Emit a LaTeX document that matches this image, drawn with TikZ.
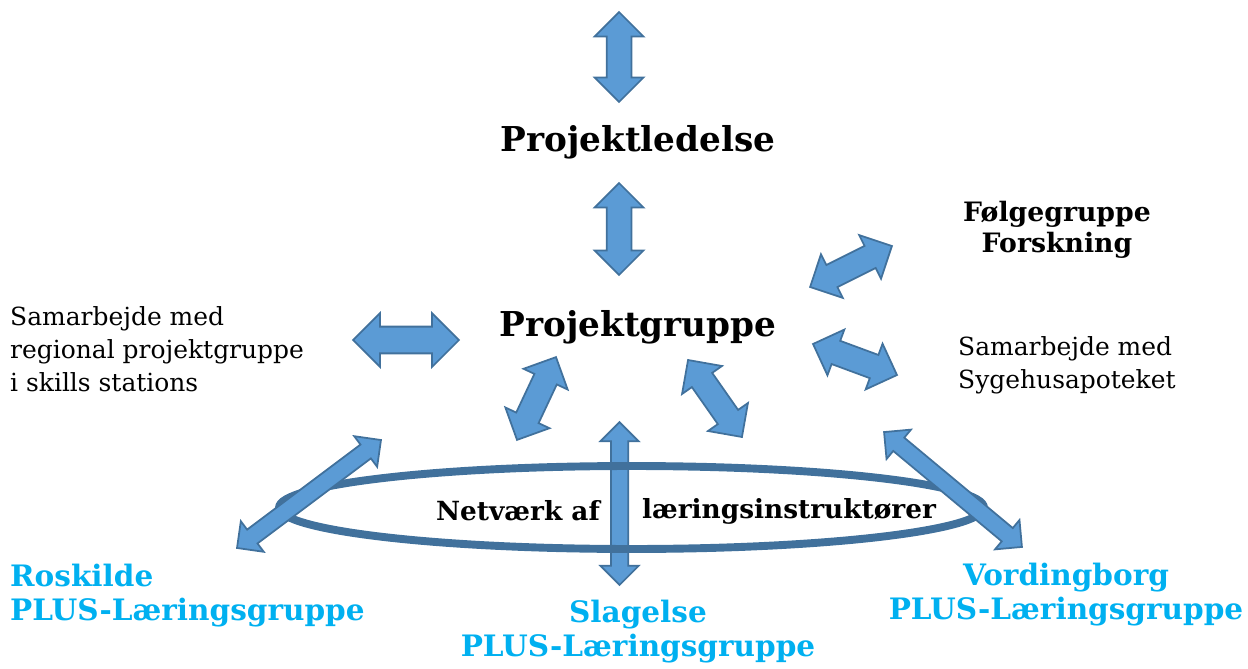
\documentclass[tikz,border=0pt]{standalone}
\usepackage{fontspec}
\setmainfont{DejaVu Serif}
\usetikzlibrary{shapes.arrows,shapes.geometric}

\definecolor{pilfyld}{RGB}{91,155,213}
\definecolor{pilkant}{RGB}{65,113,156}
\definecolor{plusblaa}{RGB}{0,176,240}

\begin{document}
\begin{tikzpicture}[x=0.02cm, y=-0.02cm,
	pil/.style={shape=double arrow, fill=pilfyld, draw=pilkant, line width=1pt,
		inner xsep=0pt, inner ysep=0.23cm, minimum width=0.94cm, double arrow head extend=0.24cm},
	langpil/.style={pil, inner ysep=0.155cm, minimum width=0.72cm, double arrow head extend=0.21cm},
	titel/.style={font=\bfseries\fontsize{19.5}{22}\selectfont},
	gruppe/.style={font=\bfseries\fontsize{16.8}{19.3}\selectfont, text=plusblaa},
	tekst/.style={font=\fontsize{14.2}{18.7}\selectfont, align=left}]
	\useasboundingbox (0,0) rectangle (1248,669);

	% tekster
	\node[titel] (ledelse) at (638,142){Projektledelse};
	\node[titel] (gruppe) at (638,327){Projektgruppe};
	\node[font=\bfseries\fontsize{15.2}{18}\selectfont, align=center] (folge) at (1057,230){Følgegruppe\\Forskning};
	\node[tekst, anchor=west] (samregion) at (4,349){Samarbejde med\\regional projektgruppe\\i skills stations};
	\node[tekst, anchor=west] (samapotek) at (952,365){Samarbejde med\\Sygehusapoteket};
	\node[gruppe, align=left, anchor=west] (roskilde) at (4,596){Roskilde\\PLUS-Læringsgruppe};
	\node[gruppe, align=center] (slagelse) at (638,632){Slagelse\\PLUS-Læringsgruppe};
	\node[gruppe, align=center] (vordingborg) at (1066,595){Vordingborg\\PLUS-Læringsgruppe};

	% pile omkring projektgruppen
	\node[pil, minimum height=1.8cm, rotate=90] (a1) at (619,57){};
	\node[pil, minimum height=1.84cm, rotate=90] (a2) at (619,229){};
	\node[pil, minimum height=2.12cm, inner ysep=0.25cm, minimum width=1.04cm, double arrow head extend=0.27cm] (a3) at (406,340){};
	\node[pil, minimum height=1.83cm, rotate=26.6] (a4) at (851,266.5){};
	\node[pil, minimum height=1.79cm, rotate=-20.3] (a5) at (855,359.5){};
	\node[pil, minimum height=1.83cm, rotate=64.8] (a6) at (536.5,398.5){};
	\node[pil, minimum height=1.88cm, rotate=-55] (a7) at (715,398.5){};

	% netvaerket
	\node[langpil, minimum height=3.26cm, rotate=90] (a9) at (619.5,503.5){};
	\node[ellipse, draw=pilkant, line width=4.5pt, inner sep=0pt,
		minimum width=14.1cm, minimum height=1.66cm] (netvaerk) at (631.5,507.5){};
	\node[langpil, minimum height=3.6cm, rotate=36.87] (a8) at (309,494){};
	\node[langpil, minimum height=3.59cm, rotate=-39.8] (a10) at (953,489.5){};
	\node[font=\bfseries\fontsize{15}{17}\selectfont] (netaf) at (518,511){Netværk af};
	\node[font=\bfseries\fontsize{15}{17}\selectfont] (netinst) at (789,511){læringsinstruktører};
\end{tikzpicture}
\end{document}
